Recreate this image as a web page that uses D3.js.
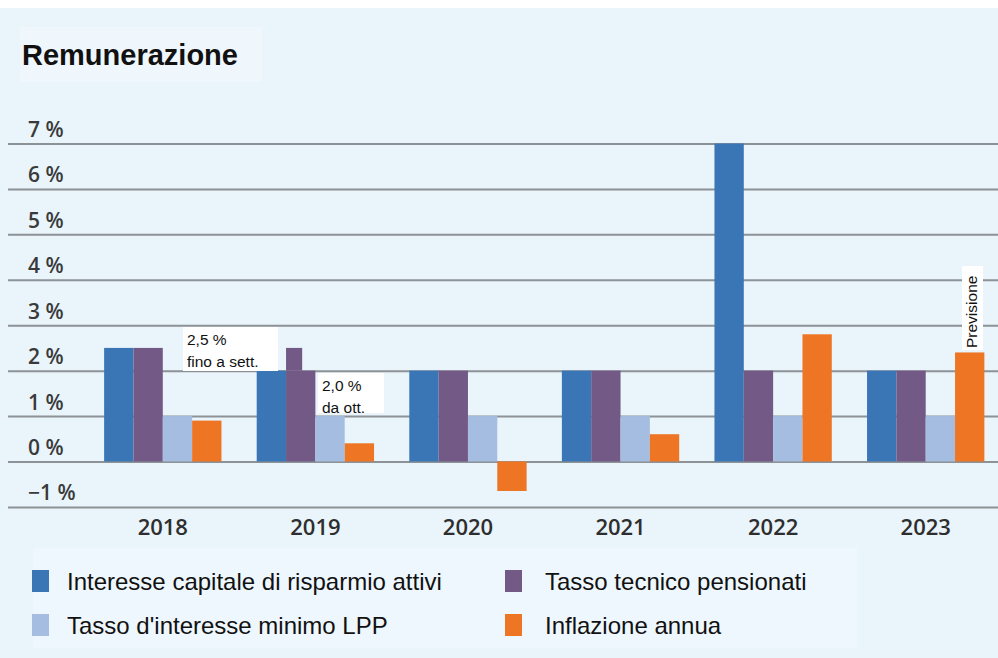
<!DOCTYPE html>
<html>
<head>
<meta charset="utf-8">
<script src="https://cdn.jsdelivr.net/npm/d3@7/dist/d3.min.js"></script>
<style>
  html, body { margin: 0; padding: 0; background: #ffffff; }
  svg { display: block; }
</style>
</head>
<body>
<svg id="chart" width="998" height="658"></svg>
<script>
// Anni e serie (valori in %)
const years = ["2018", "2019", "2020", "2021", "2022", "2023"];
const interesseAttivi = [2.5, 2.0, 2.0, 2.0, 7.0, 2.0];
const tassoTecnico = [2.5, 2.0, 2.0, 2.0, 2.0, 2.0];
const tassoMinimoLPP = [1.0, 1.0, 1.0, 1.0, 1.0, 1.0];
const inflazione = [0.9, 0.4, -0.65, 0.6, 2.8, 2.4];
// Tasso tecnico 2019: 2,5 % fino a settembre, poi 2,0 %
const tassoTecnico2019FinoSett = 2.5;
const yTicks = [-1, 0, 1, 2, 3, 4, 5, 6, 7];

const seriesNames = [
  "Interesse capitale di risparmio attivi",
  "Tasso tecnico pensionati",
  "Tasso d'interesse minimo LPP",
  "Inflazione annua"
];
const seriesColors = ["#3a76b5", "#735a86", "#a5bde0", "#ee7523"];
const seriesValues = [interesseAttivi, tassoTecnico, tassoMinimoLPP, inflazione];

const svg = d3.select("#chart");

// sfondo
svg.append("rect").attr("x", 0).attr("y", 8).attr("width", 998).attr("height", 650)
  .attr("fill", "#e9f4fb");
svg.append("rect").attr("x", 20).attr("y", 27).attr("width", 242).attr("height", 55)
  .attr("fill", "#eff7fd");
svg.append("rect").attr("x", 33).attr("y", 548).attr("width", 824).attr("height", 100)
  .attr("fill", "#eef7fd");

// titolo
svg.append("text").attr("x", 22).attr("y", 65)
  .attr("font-family", "'Liberation Sans', Arial, sans-serif")
  .attr("font-weight", "bold").attr("font-size", 29).attr("fill", "#111")
  .text("Remunerazione");

const y = d3.scaleLinear().domain([-1, 7]).range([506.9, 143.5]);
const x = d3.scaleBand().domain(years).range([86.5, 1002])
  .paddingInner(0.231).paddingOuter(0.1155);
const xs = d3.scaleBand().domain(d3.range(seriesNames.length)).range([0, x.bandwidth()]);

// griglia ed etichette dell'asse y
const fmt = d => (d < 0 ? "\u2212" : "") + Math.abs(d) + " %";
const gy = svg.append("g").attr("transform", "translate(998,0)")
  .call(d3.axisLeft(y).tickValues(yTicks).tickSize(990).tickFormat(fmt));
gy.select(".domain").remove();
gy.selectAll(".tick line").attr("stroke", "#8d9297").attr("stroke-width", 2);
gy.selectAll(".tick text")
  .attr("x", -970).attr("dy", -7).attr("text-anchor", "start")
  .attr("font-family", "'Open Sans', sans-serif").attr("font-weight", 600)
  .attr("font-size", 21).attr("fill", "#3a3a3a");

// barre
const groups = svg.append("g").selectAll("g").data(years).join("g")
  .attr("transform", d => `translate(${x(d)},0)`);
groups.selectAll("rect.bar")
  .data((yr, i) => seriesValues.map((vals, s) => ({ s, v: vals[i], yr })))
  .join("rect").attr("class", "bar")
  .attr("x", d => xs(d.s))
  .attr("width", xs.bandwidth())
  .attr("y", d => y(Math.max(0, d.v)))
  .attr("height", d => Math.abs(y(d.v) - y(0)))
  .attr("fill", d => seriesColors[d.s]);

// gradino 2019 del tasso tecnico
svg.append("rect")
  .attr("x", x("2019") + xs(1))
  .attr("width", xs.bandwidth() * 0.55)
  .attr("y", y(tassoTecnico2019FinoSett))
  .attr("height", y(tassoTecnico[1]) - y(tassoTecnico2019FinoSett))
  .attr("fill", seriesColors[1]);

// etichette dell'asse x
const gx = svg.append("g").attr("transform", `translate(0,${y(-1)})`)
  .call(d3.axisBottom(x).tickSize(0).tickPadding(12));
gx.select(".domain").remove();
gx.selectAll(".tick text")
  .attr("font-family", "'Open Sans', sans-serif").attr("font-weight", 600)
  .attr("font-size", 22).attr("fill", "#2e2e2e");

// note
const noteFont = "'Liberation Sans', Arial, sans-serif";
function note(bx, by, bw, bh, lines) {
  svg.append("rect").attr("x", bx).attr("y", by).attr("width", bw).attr("height", bh)
    .attr("fill", "#ffffff");
  lines.forEach((t, i) => {
    svg.append("text").attr("x", bx + 4).attr("y", by + 18 + i * 22)
      .attr("font-family", noteFont).attr("font-size", 15.5).attr("fill", "#111")
      .text(t);
  });
}
note(183, 327, 95, 44, ["2,5 %", "fino a sett."]);
note(318, 373, 66, 40, ["2,0 %", "da ott."]);

svg.append("rect").attr("x", 962).attr("y", 266).attr("width", 21).attr("height", 84)
  .attr("fill", "#ffffff");
svg.append("text")
  .attr("transform", "translate(977,348) rotate(-90)")
  .attr("font-family", noteFont).attr("font-size", 15.5).attr("fill", "#111")
  .text("Previsione");

// legenda
const legend = svg.append("g").selectAll("g").data(seriesNames).join("g")
  .attr("transform", (d, i) => `translate(${i % 2 === 0 ? 32 : 505},${i < 2 ? 570 : 614})`);
legend.append("rect").attr("x", 0).attr("y", 0).attr("width", 17).attr("height", 22)
  .attr("fill", (d, i) => seriesColors[i]);
legend.append("text").attr("x", (d, i) => i % 2 === 0 ? 35 : 40).attr("y", 20)
  .attr("font-family", noteFont).attr("font-size", 24).attr("fill", "#111")
  .text(d => d);
</script>
</body>
</html>
